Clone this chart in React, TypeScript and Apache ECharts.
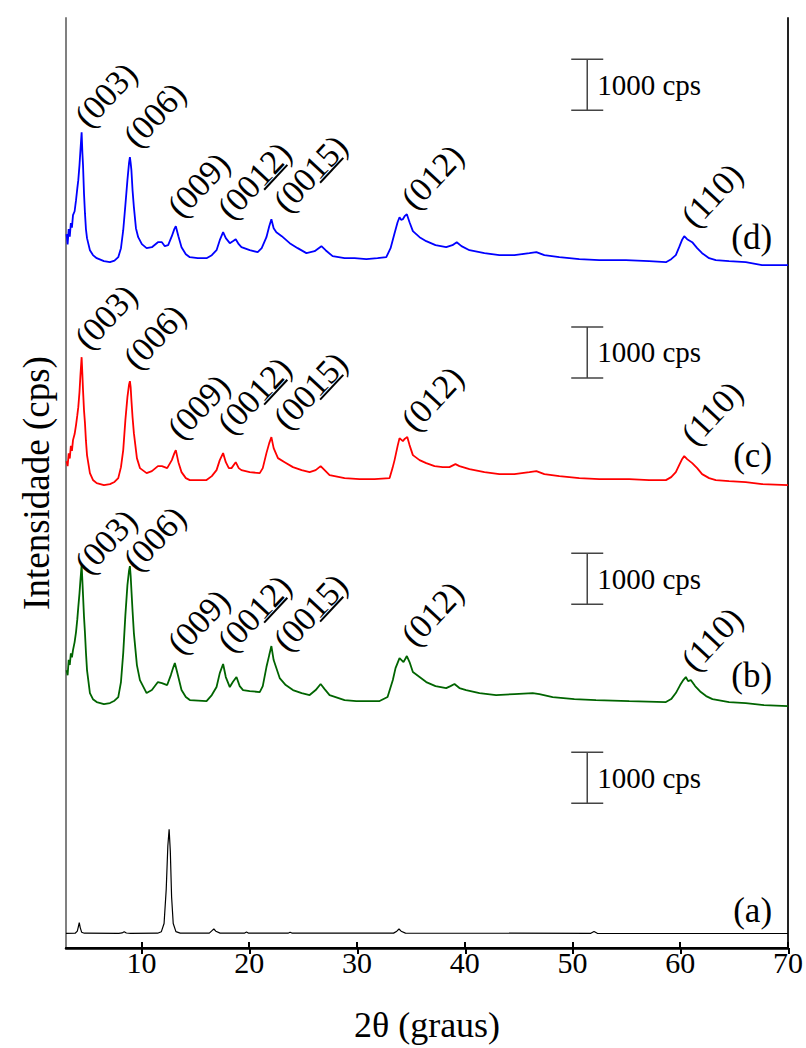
import React, { useEffect, useRef } from "react";
import * as echarts from "echarts";

// 2θ (degrees) / intensity (cps) pairs for each diffractogram
const patternA: [number, number][] = [
  [3.0, 288], [3.85, 290], [4.05, 330], [4.15, 420], [4.23, 496], [4.32, 400], [4.45, 310], [4.7, 290],
  [7.9, 288], [8.2, 296], [8.4, 320], [8.6, 294], [9.0, 288], [11.5, 290], [11.85, 320], [12.1, 480],
  [12.3, 1150], [12.45, 2000], [12.57, 2330], [12.68, 1900], [12.8, 1000], [12.95, 480], [13.2, 320],
  [13.6, 292], [16.3, 292], [16.55, 340], [16.72, 373], [16.9, 330], [17.3, 292], [19.55, 290],
  [19.75, 312], [19.95, 290], [23.6, 290], [23.8, 310], [24.0, 290], [33.4, 292], [33.7, 330],
  [33.9, 372], [34.1, 330], [34.5, 292], [51.7, 288], [52.0, 322], [52.3, 288], [70.0, 284],
];

const patternB: [number, number][] = [
  [3.05, 1051], [3.15, 950], [3.25, 1250], [3.35, 1150], [3.45, 1380], [3.55, 1300], [3.65, 1443],
  [3.8, 1600], [3.93, 1796], [4.05, 2050], [4.14, 2286], [4.25, 2550], [4.34, 2816], [4.45, 3110],
  [4.52, 2800], [4.58, 2522], [4.67, 2100], [4.76, 1777], [4.85, 1400], [4.95, 1051], [5.22, 600],
  [5.5, 480], [5.85, 424], [6.52, 384], [7.08, 404], [7.5, 450], [7.85, 522], [8.1, 816], [8.31, 1384],
  [8.51, 2129], [8.7, 2718], [8.85, 3000], [8.93, 3090], [9.0, 2900], [9.07, 2620], [9.18, 2200],
  [9.3, 1777], [9.58, 1149], [9.86, 855], [10.48, 600], [10.97, 659], [11.53, 816], [11.9, 796],
  [12.39, 757], [12.73, 953], [12.95, 1100], [13.1, 1188], [13.38, 953], [13.72, 659], [14.12, 522],
  [14.49, 463], [16.04, 443], [16.53, 561], [16.97, 718], [17.27, 992], [17.58, 1169], [17.83, 914],
  [18.2, 718], [18.48, 816], [18.82, 914], [19.12, 737], [19.43, 659], [20.05, 639], [20.98, 620],
  [21.26, 737], [21.6, 1110], [21.86, 1345], [22.06, 1522], [22.27, 1247], [22.83, 894], [23.39, 757],
  [24.06, 659], [24.87, 600], [25.61, 561], [26.17, 659], [26.63, 777], [27.0, 678], [27.46, 561],
  [28.85, 463], [29.94, 443], [31.17, 443], [32.1, 443], [32.84, 522], [33.33, 855], [33.58, 1090],
  [33.95, 1286], [34.32, 1208], [34.63, 1326], [34.88, 1208], [35.19, 1012], [35.81, 914], [36.43, 816],
  [37.29, 737], [38.28, 698], [38.68, 737], [39.05, 777], [39.51, 698], [40.13, 659], [41.37, 600],
  [42.91, 561], [44.61, 581], [46.31, 600], [46.93, 581], [48.16, 522], [50.17, 482], [52.18, 463],
  [55.27, 443], [58.67, 424], [59.16, 482], [59.59, 600], [59.99, 757], [60.3, 860], [60.52, 914],
  [60.73, 835], [60.98, 855], [61.38, 737], [61.91, 620], [62.4, 541], [62.99, 482], [64.53, 424],
  [66.08, 404], [67.77, 365], [70.0, 345],
];

const patternC: [number, number][] = [
  [3.05, 949], [3.15, 850], [3.25, 1100], [3.35, 1000], [3.45, 1250], [3.55, 1150], [3.65, 1361],
  [3.8, 1480], [3.93, 1655], [4.05, 1850], [4.14, 2008], [4.25, 2300], [4.34, 2635], [4.45, 2988],
  [4.52, 2650], [4.58, 2341], [4.67, 1950], [4.76, 1694], [4.85, 1350], [4.95, 1067], [5.22, 714],
  [5.5, 580], [5.85, 518], [6.52, 478], [7.08, 498], [7.5, 540], [7.85, 616], [8.1, 831], [8.31, 1165],
  [8.51, 1753], [8.7, 2204], [8.85, 2450], [8.93, 2518], [9.0, 2400], [9.07, 2145], [9.18, 1800],
  [9.3, 1498], [9.58, 1008], [9.86, 812], [10.48, 714], [10.97, 753], [11.53, 851], [11.9, 851],
  [12.39, 812], [12.82, 969], [13.05, 1100], [13.19, 1165], [13.43, 929], [13.72, 733], [14.12, 616],
  [14.49, 577], [16.04, 577], [16.53, 655], [16.97, 773], [17.27, 969], [17.58, 1106], [17.83, 929],
  [18.11, 812], [18.36, 812], [18.75, 929], [19.03, 812], [19.28, 773], [20.05, 733], [20.98, 714],
  [21.26, 812], [21.6, 1106], [21.86, 1302], [22.06, 1420], [22.27, 1204], [22.67, 1008], [23.29, 929],
  [24.06, 831], [24.87, 773], [25.61, 733], [26.17, 773], [26.63, 851], [27.0, 773], [27.46, 675],
  [28.85, 616], [30.24, 596], [31.63, 596], [33.03, 616], [33.3, 812], [33.49, 969], [33.77, 1243],
  [33.95, 1400], [34.26, 1341], [34.45, 1390], [34.67, 1420], [34.88, 1263], [35.19, 1067],
  [35.81, 969], [36.43, 910], [37.2, 851], [37.96, 831], [38.58, 831], [39.14, 890], [39.51, 851],
  [40.44, 792], [41.83, 733], [43.22, 694], [44.61, 694], [46.0, 733], [46.65, 753], [47.39, 694],
  [48.78, 655], [50.63, 616], [52.49, 596], [55.27, 596], [57.11, 577], [58.67, 577], [59.16, 635],
  [59.59, 733], [59.9, 871], [60.15, 980], [60.37, 1047], [60.64, 988], [61.11, 910], [61.57, 812],
  [62.03, 694], [62.68, 616], [63.3, 577], [64.53, 557], [66.08, 537], [67.59, 498], [70.0, 478],
];

const patternD: [number, number][] = [
  [3.05, 1200], [3.15, 1000], [3.25, 1300], [3.35, 1150], [3.45, 1420], [3.55, 1330], [3.65, 1573],
  [3.8, 1650], [3.93, 1867], [4.05, 2100], [4.14, 2259], [4.25, 2550], [4.34, 2847], [4.45, 3200],
  [4.52, 2800], [4.58, 2553], [4.67, 2000], [4.76, 1612], [4.85, 1300], [4.95, 1122], [5.22, 886],
  [5.5, 790], [5.85, 729], [6.52, 671], [7.08, 651], [7.5, 680], [7.85, 749], [8.1, 926], [8.31, 1278],
  [8.51, 1769], [8.7, 2259], [8.85, 2600], [8.93, 2710], [9.0, 2600], [9.07, 2455], [9.18, 2050],
  [9.3, 1730], [9.49, 1318], [9.7, 1141], [10.04, 1004], [10.48, 926], [10.97, 945], [11.53, 1043],
  [11.9, 1043], [12.17, 965], [12.48, 984], [12.82, 1161], [13.05, 1300], [13.19, 1357], [13.43, 1161],
  [13.72, 945], [14.12, 808], [14.49, 749], [15.23, 729], [16.04, 729], [16.53, 788], [16.97, 886],
  [17.27, 1082], [17.58, 1239], [17.83, 1122], [18.2, 1024], [18.48, 1063], [18.75, 1102], [19.03, 1004],
  [19.28, 945], [20.05, 886], [20.79, 847], [21.16, 926], [21.6, 1141], [21.86, 1357], [22.06, 1494],
  [22.27, 1318], [22.52, 1239], [23.02, 1161], [23.76, 1024], [24.5, 926], [25.31, 828], [26.07, 867],
  [26.7, 965], [27.09, 886], [27.74, 769], [28.85, 729], [29.78, 729], [30.87, 710], [31.91, 729],
  [32.72, 749], [33.12, 926], [33.49, 1220], [33.77, 1435], [33.95, 1533], [34.1, 1480], [34.26, 1494],
  [34.45, 1560], [34.63, 1592], [34.88, 1435], [35.19, 1259], [35.81, 1141], [36.43, 1063], [37.29, 984],
  [38.28, 945], [38.86, 984], [39.26, 1043], [39.7, 965], [40.44, 886], [41.83, 828], [43.22, 788],
  [44.61, 788], [46.0, 828], [46.65, 847], [47.39, 788], [48.78, 749], [50.63, 710], [52.49, 690],
  [54.96, 690], [57.11, 671], [58.67, 651], [59.16, 710], [59.59, 788], [59.9, 945], [60.15, 1080],
  [60.37, 1161], [60.64, 1102], [61.11, 1043], [61.57, 926], [62.03, 828], [62.68, 729], [63.3, 690],
  [64.53, 671], [66.08, 651], [67.59, 592], [70.0, 592],
];

// vertical stacking offsets (cps) of the four patterns
const patternNames = ["(a)", "(b)", "(c)", "(d)"];
const patterns = [patternA, patternB, patternC, patternD];
const patternOffsets = [0, 4400, 8600, 12800];
const patternColors = ["#000000", "#006400", "#ff0000", "#0000ff"];
const patternWidths = [1.2, 1.8, 1.8, 1.8];

// (hkl) reflections: label text, underlined part, 2θ anchor
const millerLabels = ["(003)", "(006)", "(009)", "(0012)", "(0015)", "(012)", "(110)"];
const millerUnderline = ["", "", "", "12", "15", "", ""];
const millerTheta = [4.11, 8.65, 12.73, 17.36, 22.55, 34.42, 60.4];
// label anchor heights (stacked cps) for patterns b, c, d
const millerHeightsB = [7314, 7373, 5745, 5784, 5804, 5902, 5412];
const millerHeightsC = [11725, 11333, 9961, 10059, 10157, 10118, 9843];
const millerHeightsD = [16078, 15686, 14314, 14275, 14412, 14471, 14118];

// pattern name labels: anchor 2θ and height
const nameTheta = 68.52;
const nameHeights = [745, 5353, 9667, 13941];

// 1000 cps scale bars
const scaleBarCps = 1000;
const scaleBarTheta = 51.37;
const scaleBarBases = [2840, 6740, 11180, 16430];

const FONT = "'Liberation Serif', 'Times New Roman', serif";
const LABEL_SIZE = 34;
const LABEL_ANGLE = (47 * Math.PI) / 180;
const LABEL_SHIFT_X = 15;
const LABEL_SHIFT_Y = 5;
const tickValues = [10, 20, 30, 40, 50, 60, 70];

function buildOption() {
  const lineSeries = patterns.map((p, i) => ({
    type: "line",
    name: patternNames[i],
    data: p.map(([t, v]) => [t, v + patternOffsets[i]]),
    showSymbol: false,
    symbol: "none",
    lineStyle: { color: patternColors[i], width: patternWidths[i] },
    itemStyle: { color: patternColors[i] },
    z: 3,
  }));

  // label records: [theta, height, kind (0 = miller, 1 = name), text index]
  const labelData: number[][] = [];
  [millerHeightsB, millerHeightsC, millerHeightsD].forEach((hs) => {
    hs.forEach((h, k) => labelData.push([millerTheta[k], h, 0, k]));
  });
  nameHeights.forEach((h, k) => labelData.push([nameTheta, h, 1, k]));

  const labelSeries = {
    type: "custom",
    data: labelData,
    clip: false,
    z: 5,
    renderItem: (_params: any, api: any) => {
      const p = api.coord([api.value(0), api.value(1)]);
      const kind = api.value(2);
      const idx = api.value(3);
      if (kind === 1) {
        return {
          type: "text",
          x: p[0],
          y: p[1],
          style: {
            text: patternNames[idx],
            fontSize: 35,
            fontFamily: FONT,
            fill: "#000",
            align: "right",
            verticalAlign: "middle",
          },
        };
      }
      const text = millerLabels[idx];
      const children: any[] = [
        {
          type: "text",
          x: 0,
          y: 0,
          style: {
            text,
            fontSize: LABEL_SIZE,
            fontFamily: FONT,
            fill: "#000",
            align: "left",
            verticalAlign: "bottom",
          },
        },
      ];
      const ul = millerUnderline[idx];
      if (ul) {
        const ctx = document.createElement("canvas").getContext("2d")!;
        ctx.font = `${LABEL_SIZE}px ${FONT}`;
        const start = ctx.measureText(text.slice(0, text.indexOf(ul))).width;
        const w = ctx.measureText(ul).width;
        children.push({
          type: "rect",
          shape: { x: start, y: -0.13 * LABEL_SIZE, width: w, height: 2 },
          style: { fill: "#000" },
        });
      }
      return {
        type: "group",
        x: p[0] + LABEL_SHIFT_X,
        y: p[1] + LABEL_SHIFT_Y,
        rotation: LABEL_ANGLE,
        children,
      };
    },
  };

  const barSeries = {
    type: "custom",
    data: scaleBarBases.map((b) => [scaleBarTheta, b]),
    clip: false,
    z: 4,
    renderItem: (_params: any, api: any) => {
      const x = api.value(0);
      const b = api.value(1);
      const p0 = api.coord([x, b]);
      const p1 = api.coord([x, b + scaleBarCps]);
      const stroke = { stroke: "#444", lineWidth: 1.5 };
      return {
        type: "group",
        children: [
          { type: "line", shape: { x1: p0[0], y1: p0[1], x2: p1[0], y2: p1[1] }, style: stroke },
          { type: "line", shape: { x1: p0[0] - 16, y1: p0[1], x2: p0[0] + 16, y2: p0[1] }, style: stroke },
          { type: "line", shape: { x1: p1[0] - 16, y1: p1[1], x2: p1[0] + 16, y2: p1[1] }, style: stroke },
          {
            type: "text",
            x: p0[0] + 10,
            y: (p0[1] + p1[1]) / 2,
            style: {
              text: `${scaleBarCps} cps`,
              fontSize: 29,
              fontFamily: FONT,
              fill: "#000",
              align: "left",
              verticalAlign: "middle",
            },
          },
        ],
      };
    },
  };

  const hidden = { show: false };
  return {
    animation: false,
    backgroundColor: "#ffffff",
    textStyle: { fontFamily: FONT },
    grid: [
      { left: 66, right: 17, top: 18, bottom: 100 },
      { left: 66, right: 17, top: 18, bottom: 100 },
    ],
    xAxis: [
      {
        type: "value",
        gridIndex: 0,
        min: 3,
        max: 70,
        position: "bottom",
        axisLine: { show: true, lineStyle: { color: "#000", width: 2.5 } },
        axisTick: { show: true, inside: true, length: 6, customValues: tickValues, lineStyle: { color: "#000", width: 2 } },
        axisLabel: { show: true, customValues: tickValues, fontSize: 30, fontFamily: FONT, color: "#000", margin: -1 },
        splitLine: hidden,
        name: "2θ (graus)",
        nameLocation: "middle",
        nameGap: 59,
        nameTextStyle: { fontSize: 36, fontFamily: FONT, color: "#000" },
      },
      {
        type: "value",
        gridIndex: 0,
        min: 3,
        max: 70,
        position: "top",
        axisLine: { show: true, lineStyle: { color: "#000", width: 2 } },
        axisTick: hidden,
        axisLabel: hidden,
        splitLine: hidden,
      },
      {
        type: "value",
        gridIndex: 1,
        min: 3,
        max: 70,
        position: "bottom",
        axisLine: hidden,
        axisTick: { show: true, inside: false, length: 6, customValues: tickValues, lineStyle: { color: "#000", width: 2 } },
        axisLabel: hidden,
        splitLine: hidden,
      },
    ],
    yAxis: [
      {
        type: "value",
        gridIndex: 0,
        min: 0,
        max: 18240,
        position: "left",
        axisLine: { show: true, lineStyle: { color: "#808080", width: 2 } },
        axisTick: hidden,
        axisLabel: hidden,
        splitLine: hidden,
        name: "Intensidade (cps)",
        nameLocation: "middle",
        nameGap: 11,
        nameTextStyle: { fontSize: 37, fontFamily: FONT, color: "#000" },
      },
      {
        type: "value",
        gridIndex: 0,
        min: 0,
        max: 18240,
        position: "right",
        axisLine: { show: true, lineStyle: { color: "#222", width: 2 } },
        axisTick: hidden,
        axisLabel: hidden,
        splitLine: hidden,
      },
      {
        type: "value",
        gridIndex: 1,
        min: 0,
        max: 18240,
        show: false,
      },
    ],
    series: [...lineSeries, barSeries, labelSeries],
  };
}

export default function App() {
  const ref = useRef<HTMLDivElement>(null);
  useEffect(() => {
    if (!ref.current) return;
    const chart = echarts.init(ref.current, null, { renderer: "svg" });
    chart.setOption(buildOption() as any);
    return () => chart.dispose();
  }, []);
  return (
    <div
      ref={ref}
      style={{ position: "absolute", left: 0, top: 0, width: 806, height: 1048, background: "#fff" }}
    />
  );
}
